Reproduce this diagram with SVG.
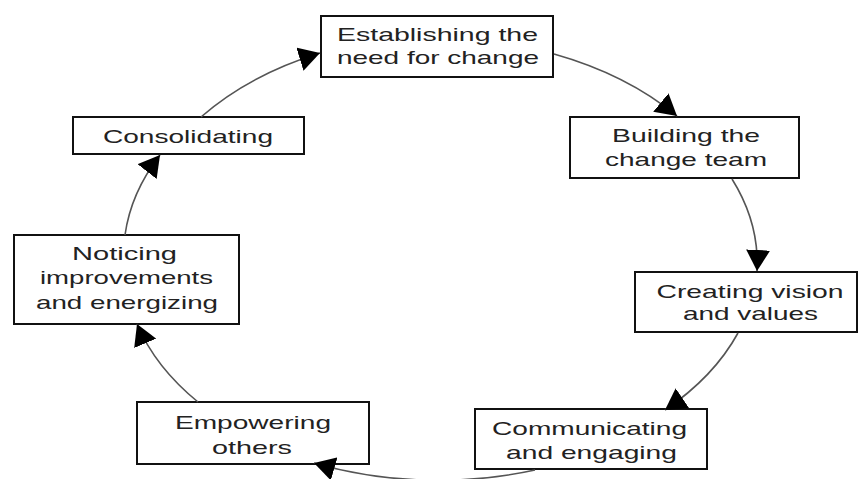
<svg xmlns="http://www.w3.org/2000/svg" width="860" height="479" viewBox="0 0 860 479">
  <style>
    .box { fill: #ffffff; stroke: #111111; stroke-width: 2; }
    .lbl { font-family: "Liberation Sans", Arial, sans-serif; font-size: 19px; fill: #222222; text-anchor: middle; }
    .edge { fill: none; stroke: #555555; stroke-width: 1.6; marker-end: url(#arrow); }
  </style>
  <defs>
    <marker id="arrow" viewBox="0 0 21 24" refX="21" refY="12" markerWidth="21" markerHeight="24" markerUnits="userSpaceOnUse" orient="auto">
      <path d="M0,0 L21,12 L0,24 z" fill="#000000"/>
    </marker>
  </defs>
  <rect width="860" height="479" fill="#ffffff"/>

  <g id="node-establishing">
    <rect class="box" x="321" y="16" width="232" height="61"/>
    <text class="lbl" x="437.5" y="41" textLength="201" lengthAdjust="spacingAndGlyphs">Establishing the</text>
    <text class="lbl" x="438" y="64" textLength="202" lengthAdjust="spacingAndGlyphs">need for change</text>
  </g>
  <g id="node-building">
    <rect class="box" x="570" y="117" width="229" height="61"/>
    <text class="lbl" x="686" y="142" textLength="148" lengthAdjust="spacingAndGlyphs">Building the</text>
    <text class="lbl" x="686" y="166" textLength="162" lengthAdjust="spacingAndGlyphs">change team</text>
  </g>
  <g id="node-creating">
    <rect class="box" x="635" y="272" width="222" height="60"/>
    <text class="lbl" x="750" y="298" textLength="187" lengthAdjust="spacingAndGlyphs">Creating vision</text>
    <text class="lbl" x="750.5" y="320" textLength="135" lengthAdjust="spacingAndGlyphs">and values</text>
  </g>
  <g id="node-communicating">
    <rect class="box" x="475" y="409" width="232" height="60"/>
    <text class="lbl" x="589.5" y="435" textLength="195" lengthAdjust="spacingAndGlyphs">Communicating</text>
    <text class="lbl" x="591.5" y="459" textLength="171" lengthAdjust="spacingAndGlyphs">and engaging</text>
  </g>
  <g id="node-empowering">
    <rect class="box" x="137" y="402" width="232" height="62"/>
    <text class="lbl" x="253" y="429" textLength="156" lengthAdjust="spacingAndGlyphs">Empowering</text>
    <text class="lbl" x="252" y="454" textLength="80" lengthAdjust="spacingAndGlyphs">others</text>
  </g>
  <g id="node-noticing">
    <rect class="box" x="14" y="235" width="225" height="89"/>
    <text class="lbl" x="124.5" y="260" textLength="105" lengthAdjust="spacingAndGlyphs">Noticing</text>
    <text class="lbl" x="126.5" y="284" textLength="173" lengthAdjust="spacingAndGlyphs">improvements</text>
    <text class="lbl" x="127" y="309" textLength="182" lengthAdjust="spacingAndGlyphs">and energizing</text>
  </g>
  <g id="node-consolidating">
    <rect class="box" x="73" y="117" width="231" height="37"/>
    <text class="lbl" x="188" y="143" textLength="170" lengthAdjust="spacingAndGlyphs">Consolidating</text>
  </g>

  <g id="connectors">
    <path class="edge" d="M554,54 A316,215 0 0 1 677,116"/>
    <path class="edge" d="M732,179 A316,215 0 0 1 757,271"/>
    <path class="edge" d="M738,333 A316,215 0 0 1 665,410"/>
    <path class="edge" d="M535,470 A316,215 0 0 1 314,463"/>
    <path class="edge" d="M198,402 A316,215 0 0 1 137,324"/>
    <path class="edge" d="M125,235 A316,215 0 0 1 160,155"/>
    <path class="edge" d="M201,117 A316,215 0 0 1 320,53"/>
  </g>
</svg>
